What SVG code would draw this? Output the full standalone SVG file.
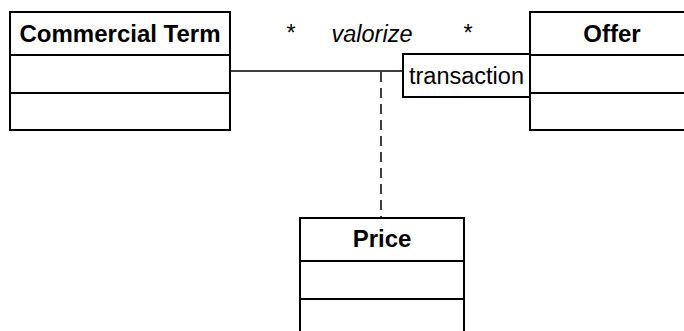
<svg xmlns="http://www.w3.org/2000/svg" width="684" height="331" viewBox="0 0 684 331">
  <style>
    .box { fill: #ffffff; stroke: #000000; stroke-width: 2; }
    .div { stroke: #000000; stroke-width: 2; }
    .title { font-family: "Liberation Sans", Arial, sans-serif; font-size: 24px; font-weight: bold; text-anchor: middle; fill: #000; }
    .lbl { font-family: "Liberation Sans", Arial, sans-serif; font-size: 23.5px; fill: #000; }
    .assoc { stroke: #000000; stroke-width: 1.5; fill: none; }
    .dash { stroke: #000000; stroke-width: 1.5; fill: none; stroke-dasharray: 10 6; }
  </style>

  <!-- connectors -->
  <g id="connectors">
    <line class="assoc" x1="230" y1="71" x2="403" y2="71"/>
    <line class="dash" x1="381" y1="72" x2="381" y2="218"/>
    <text class="lbl" x="291" y="41" text-anchor="middle">*</text>
    <text class="lbl" x="372" y="42" text-anchor="middle" font-style="italic">valorize</text>
    <text class="lbl" x="468" y="41" text-anchor="middle">*</text>
  </g>

  <!-- class: Commercial Term -->
  <g id="commercial-term">
    <rect class="box" x="10" y="12" width="220" height="118"/>
    <line class="div" x1="10" y1="55" x2="230" y2="55"/>
    <line class="div" x1="10" y1="93" x2="230" y2="93"/>
    <text class="title" x="120" y="42">Commercial Term</text>
  </g>

  <!-- class: Offer -->
  <g id="offer">
    <rect class="box" x="530" y="12" width="164" height="118"/>
    <line class="div" x1="530" y1="55" x2="694" y2="55"/>
    <line class="div" x1="530" y1="93" x2="694" y2="93"/>
    <text class="title" x="612" y="42">Offer</text>
  </g>

  <!-- qualifier on Offer -->
  <g id="qualifier">
    <rect class="box" x="403" y="54" width="127" height="43"/>
    <text class="lbl" x="409" y="84">transaction</text>
  </g>

  <!-- association class: Price -->
  <g id="price">
    <rect class="box" x="300" y="218" width="164" height="125"/>
    <line class="div" x1="300" y1="261" x2="464" y2="261"/>
    <line class="div" x1="300" y1="299" x2="464" y2="299"/>
    <text class="title" x="382" y="247">Price</text>
  </g>
</svg>
